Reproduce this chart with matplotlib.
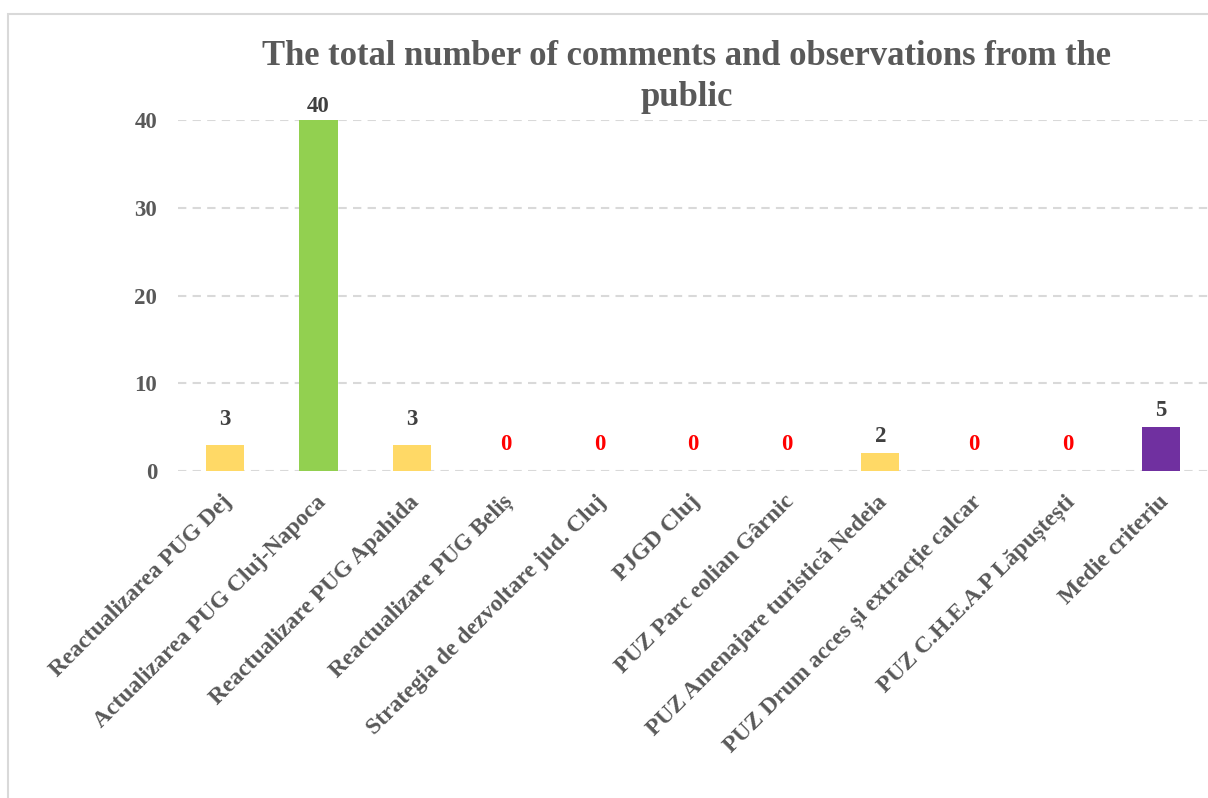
import matplotlib
matplotlib.use("Agg")
import matplotlib.pyplot as plt
from matplotlib.patches import Rectangle
from matplotlib.transforms import ScaledTranslation

categories = [
    "Reactualizarea PUG Dej",
    "Actualizarea PUG Cluj-Napoca",
    "Reactualizare PUG Apahida",
    "Reactualizare PUG Beliș",
    "Strategia de dezvoltare jud. Cluj",
    "PJGD Cluj",
    "PUZ Parc eolian Gârnic",
    "PUZ Amenajare turistică Nedeia",
    "PUZ Drum acces și extracție calcar",
    "PUZ C.H.E.A.P Lăpuștești",
    "Medie criteriu",
]
values = [3, 40, 3, 0, 0, 0, 0, 2, 0, 0, 5]
bar_colors = ["#FFD966", "#92D050", "#FFD966", "#FFD966", "#FFD966", "#FFD966",
              "#FFD966", "#FFD966", "#FFD966", "#FFD966", "#7030A0"]
yticks = [0, 10, 20, 30, 40]
title_lines = ["The total number of comments and observations from the", "public"]

# label gap above bar tops, in pixels (style only)
label_gap_px = [25, 13, 25, 26, 26, 26, 26, 17, 26, 26, 17]

plt.rcParams['font.family'] = ['Liberation Serif', 'DejaVu Serif']
plt.rcParams['font.weight'] = 'bold'

W, H = 1208, 798
fig = plt.figure(figsize=(W / 100, H / 100), dpi=100)
ax = fig.add_axes([178 / W, (H - 471) / H, 1 - 178 / W, (471 - 120) / H])

x = list(range(len(categories)))
ax.bar(x, values, width=0.41, color=bar_colors, zorder=3)
ax.set_xlim(-0.5, len(categories) - 0.5)
ax.set_ylim(0, 40)
ax.set_yticks(yticks)
ax.set_yticklabels([str(t) for t in yticks], fontsize=16.5, fontweight='bold', color='#595959')
ax.tick_params(axis='y', length=0, pad=15)
ax.tick_params(axis='x', length=0, pad=20)
ax.set_xticks(x)
ax.set_xticklabels(categories, rotation=45, ha='right', va='center', rotation_mode='anchor',
                   fontsize=17, fontweight='bold', color='#595959')
shift = ScaledTranslation(4 / 100, 0, fig.dpi_scale_trans)
for lbl in ax.get_xticklabels():
    lbl.set_transform(lbl.get_transform() + shift)
for s in ax.spines.values():
    s.set_visible(False)
ax.yaxis.grid(True, color='#D9D9D9', linestyle=(0, (4, 3)), linewidth=1.5, zorder=0)
ax.set_axisbelow(True)

for xi, v, g in zip(x, values, label_gap_px):
    ax.annotate(str(v), (xi, v), xytext=(0, g * 0.72), textcoords='offset points',
                ha='center', va='center', fontsize=16.5, fontweight='bold',
                color='#FF0000' if v == 0 else '#404040', annotation_clip=False, zorder=4)

fig.text(686.5 / W, 1 - 65 / H, title_lines[0], ha='center', va='baseline', fontsize=24.9,
         fontweight='bold', color='#595959')
fig.text(686.5 / W, 1 - 106 / H, title_lines[1], ha='center', va='baseline', fontsize=24.9,
         fontweight='bold', color='#595959')

fig.patches.append(Rectangle((8 / W, -0.01), 1.0, 1 - 14 / H + 0.01, transform=fig.transFigure,
                             fill=False, edgecolor='#D9D9D9', linewidth=1.5, zorder=0))

fig.savefig("out.png", dpi=100)
